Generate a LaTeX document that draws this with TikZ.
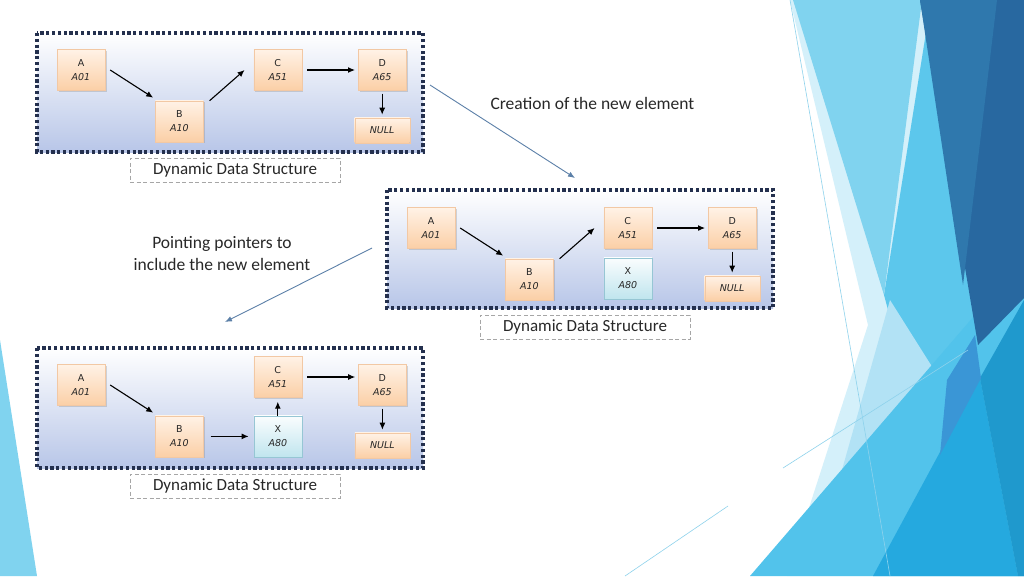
\documentclass[tikz,border=0pt]{standalone}
\usepackage{fontspec}
\setmainfont{Carlito}
\newfontfamily\cellfont[ItalicFont={DejaVu Sans Oblique}]{DejaVu Sans}
\usepackage{tikz}
\usetikzlibrary{positioning,shadows}
\usetikzlibrary{arrows.meta}
\tikzset{>=latex}
\definecolor{framecol}{RGB}{36,48,78}
\definecolor{framebot}{RGB}{184,198,232}
\definecolor{celltop}{RGB}{255,242,230}
\definecolor{cellbot}{RGB}{251,207,166}
\definecolor{cellline}{RGB}{242,200,164}
\definecolor{newtop}{RGB}{250,253,254}
\definecolor{newbot}{RGB}{192,229,238}
\definecolor{newline}{RGB}{150,198,212}
\definecolor{hintcol}{RGB}{92,128,168}
\definecolor{textcol}{RGB}{40,40,40}
\definecolor{bgvlight}{RGB}{212,240,250}
\definecolor{bglight}{RGB}{178,226,245}
\definecolor{bgsky}{RGB}{128,211,239}
\definecolor{bgmid}{RGB}{92,199,236}
\definecolor{bgdiag}{RGB}{82,195,235}
\definecolor{bgdeep}{RGB}{37,169,223}
\definecolor{bgsea}{RGB}{31,153,205}
\definecolor{bgsteel}{RGB}{58,150,214}
\definecolor{bgnavy}{RGB}{40,104,160}
\definecolor{bgnavyl}{RGB}{47,120,173}
\definecolor{bgthin}{RGB}{142,210,236}
\tikzset{
  dsframe/.style={draw=framecol,line width=3.2pt,dash pattern=on 3.2pt off 2.6pt,top color=white,bottom color=framebot},
  cell/.style={rectangle,minimum width=48pt,minimum height=41pt,inner sep=0pt,top color=celltop,bottom color=cellbot,draw=cellline,line width=0.4pt,drop shadow={shadow xshift=1.5pt,shadow yshift=-1.5pt,opacity=0.3},align=center,text=black!85,font=\cellfont\fontsize{9.5}{14}\selectfont},
  newcell/.style={cell,top color=newtop,bottom color=newbot,draw=newline},
  nullcell/.style={cell,minimum width=55pt,minimum height=25pt},
  dslabel/.style={draw=gray!70,line width=0.8pt,dash pattern=on 4pt off 2.5pt,fill=white,minimum width=210pt,minimum height=24pt,text=textcol,font=\fontsize{17}{20}\selectfont},
  link/.style={-{Latex[length=7pt,width=6pt]},line width=1.1pt,black},
  hint/.style={-{Latex[length=7pt,width=5.5pt]},hintcol,line width=0.9pt},
  hinttext/.style={text=textcol,font=\fontsize{17.5}{22}\selectfont},
}

\begin{document}
\begin{tikzpicture}[x=1pt,y=-1pt]
  \useasboundingbox[fill=white] (0,0) rectangle (1024,576);
  % slide background
  \fill[bgsky] (0,340) -- (37,576) -- (0,576) -- cycle;
  \fill[bgvlight] (790,0) -- (1024,0) -- (1024,576) -- (787,576) -- (868,325) -- cycle;
  \fill[bgmid] (928,20) -- (1024,290) -- (1024,576) -- (960,576) -- (884,295) -- cycle;
  \fill[bglight] (890,300) -- (948,392) -- (812,576) -- cycle;
  \fill[bgsky] (793,0) -- (922,0) -- (884,295) -- cycle;
  \fill[bgdiag] (750,576) -- (1024,258) -- (1024,576) -- cycle;
  \fill[bgdeep] (873,576) -- (980,378) -- (1018,576) -- cycle;
  \fill[bgsea] (980,378) -- (1024,300) -- (1024,576) -- (1018,576) -- cycle;
  \fill[bgsteel] (975,335) -- (981,378) -- (940,455) -- (947,380) -- cycle;
  \fill[bgnavy] (920,0) -- (1024,0) -- (1024,298) -- (978,345) -- cycle;
  \fill[bgnavyl] (920,0) -- (997,0) -- (963,285) -- cycle;
  \draw[bgthin,line width=0.6pt] (790,0) -- (890,576);
  \draw[bgthin,line width=0.6pt] (783,468) -- (968,350);
  \draw[bgthin,line width=0.6pt] (625,576) -- (728,506);

  % first structure
  \draw[dsframe] (37,33) rectangle (423,152);
  \node[cell] (a1) at (81,70) {A\\\textit{A01}};
  \node[cell,below right=10pt and 50pt of a1] (b1) {B\\\textit{A10}};
  \node[cell,above right=10pt and 50pt of b1] (c1) {C\\\textit{A51}};
  \node[cell,right=56pt of c1] (d1) {D\\\textit{A65}};
  \node[nullcell,below=27pt of d1] (n1) {\textit{NULL}};
  \draw[link] ([xshift=5pt]a1.east) -- ([shift={(-2pt,3pt)}]b1.north west);
  \draw[link] ([xshift=6pt]b1.north east) -- ([xshift=-9pt]c1.west);
  \draw[link] ([xshift=5pt]c1.east) -- ([xshift=-3pt]d1.west);
  \draw[link,shorten <=3pt,shorten >=3pt] (d1.south) -- (n1.north);
  \node[dslabel] (lbl1) at (235,170) {Dynamic Data Structure};

  % second structure
  \draw[dsframe] (387,190) rectangle (773,308);
  \node[cell] (a2) at (431,228) {A\\\textit{A01}};
  \node[cell,below right=10pt and 50pt of a2] (b2) {B\\\textit{A10}};
  \node[cell,above right=10pt and 50pt of b2] (c2) {C\\\textit{A51}};
  \node[newcell,below=9pt of c2] (x2) {X\\\textit{A80}};
  \node[cell,right=56pt of c2] (d2) {D\\\textit{A65}};
  \node[nullcell,below=27pt of d2] (n2) {\textit{NULL}};
  \draw[link] ([xshift=5pt]a2.east) -- ([shift={(-2pt,3pt)}]b2.north west);
  \draw[link] ([xshift=6pt]b2.north east) -- ([xshift=-9pt]c2.west);
  \draw[link] ([xshift=5pt]c2.east) -- ([xshift=-3pt]d2.west);
  \draw[link,shorten <=3pt,shorten >=3pt] (d2.south) -- (n2.north);
  \node[dslabel] (lbl2) at (585,327) {Dynamic Data Structure};

  % third structure
  \draw[dsframe] (37,348) rectangle (423,468);
  \node[cell] (a3) at (81,385) {A\\\textit{A01}};
  \node[cell,below right=10pt and 50pt of a3] (b3) {B\\\textit{A10}};
  \node[newcell,right=50pt of b3] (x3) {X\\\textit{A80}};
  \node[cell,above=18pt of x3] (c3) {C\\\textit{A51}};
  \node[cell,right=253pt of a3] (d3) {D\\\textit{A65}};
  \node[nullcell,below=27pt of d3] (n3) {\textit{NULL}};
  \draw[link] ([xshift=5pt]a3.east) -- ([shift={(-2pt,3pt)}]b3.north west);
  \draw[link,shorten <=7pt,shorten >=5pt] (b3.east) -- (b3.east -| x3.west);
  \draw[link,shorten >=4pt] (x3.north) -- (c3.south);
  \draw[link] ([xshift=5pt]c3.east) -- ([xshift=-3pt]c3.east -| d3.west);
  \draw[link,shorten <=3pt,shorten >=3pt] (d3.south) -- (n3.north);
  \node[dslabel] (lbl3) at (235,486) {Dynamic Data Structure};

  % notes
  \node[hinttext,anchor=west] (creation) at (487,103) {Creation of the new element};
  \node[hinttext,align=center] (pointing) at (222,254) {Pointing pointers to\\include the new element};
  \coordinate (cr-from) at (430,85);
  \coordinate (cr-to) at (575,178);
  \coordinate (pt-from) at (372,248);
  \coordinate (pt-to) at (225,322);
  \draw[hint] (cr-from) -- (cr-to);
  \draw[hint] (pt-from) -- (pt-to);
\end{tikzpicture}
\end{document}
